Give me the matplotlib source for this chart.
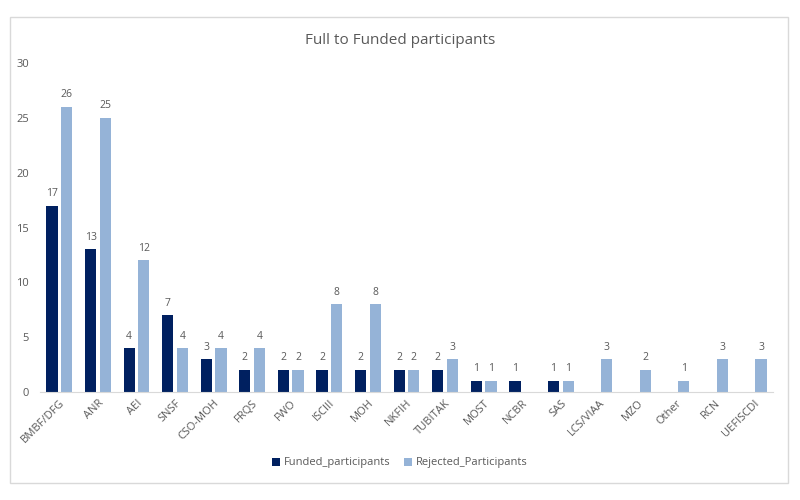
import matplotlib
matplotlib.use("Agg")
import matplotlib.pyplot as plt
import numpy as np
from matplotlib.patches import Rectangle

categories = ["BMBF/DFG", "ANR", "AEI", "SNSF", "CSO-MOH", "FRQS", "FWO", "ISCIII",
              "MOH", "NKFIH", "TUBITAK", "MOST", "NCBR", "SAS", "LCS/VIAA", "MZO",
              "Other", "RCN", "UEFISCDI"]
funded = [17, 13, 4, 7, 3, 2, 2, 2, 2, 2, 2, 1, 1, 1, 0, 0, 0, 0, 0]
rejected = [26, 25, 12, 4, 4, 4, 2, 8, 8, 2, 3, 1, 0, 1, 3, 2, 1, 3, 3]
y_ticks = [0, 5, 10, 15, 20, 25, 30]

plt.rcParams['font.family'] = ['Open Sans', 'DejaVu Sans']
dark = "#002060"
light = "#95B3D7"
txt = "#595959"

fig = plt.figure(figsize=(8, 5), dpi=100)
fig.patches.append(Rectangle((10/800, 1-483/500), 778/800, 466/500, transform=fig.transFigure,
                             fill=False, edgecolor="#D9D9D9", linewidth=1))
ax = fig.add_axes([40/800, 1-392/500, 733/800, 329/500])

x = np.arange(len(categories))
w = 0.29
off = 0.19
b1 = ax.bar(x - off, funded, w, color=dark, label="Funded_participants")
b2 = ax.bar(x + off, rejected, w, color=light, label="Rejected_Participants")

for bars, vals in ((b1, funded), (b2, rejected)):
    for rect, v in zip(bars, vals):
        if v > 0:
            ax.text(rect.get_x() + rect.get_width()/2, v + 0.6, str(v), ha="center",
                    va="bottom", fontsize=7.5, color=txt)

ax.set_xlim(-0.5, len(categories) - 0.5)
ax.set_ylim(0, 30)
ax.set_yticks(y_ticks)
ax.set_yticklabels([str(t) for t in y_ticks], fontsize=8, color=txt)
ax.set_xticks(x)
ax.set_xticklabels(categories, rotation=45, ha="right", rotation_mode="anchor",
                   fontsize=8, color=txt)
ax.tick_params(axis="both", length=0)
ax.tick_params(axis="y", pad=8)
ax.tick_params(axis="x", pad=4)
for s in ("top", "right", "left"):
    ax.spines[s].set_visible(False)
ax.spines["bottom"].set_color("#D9D9D9")

fig.text(0.5, 1-40/500, "Full to Funded participants", ha="center", va="center",
         fontsize=11, color=txt)
fig.legend(handles=[b1, b2], loc="center", bbox_to_anchor=(0.5, 1-463/500), ncol=2,
           frameon=False, fontsize=8, handlelength=0.7, handleheight=0.7,
           handletextpad=0.4, columnspacing=1.2, labelcolor=txt)

fig.savefig("out.png", dpi=100)
